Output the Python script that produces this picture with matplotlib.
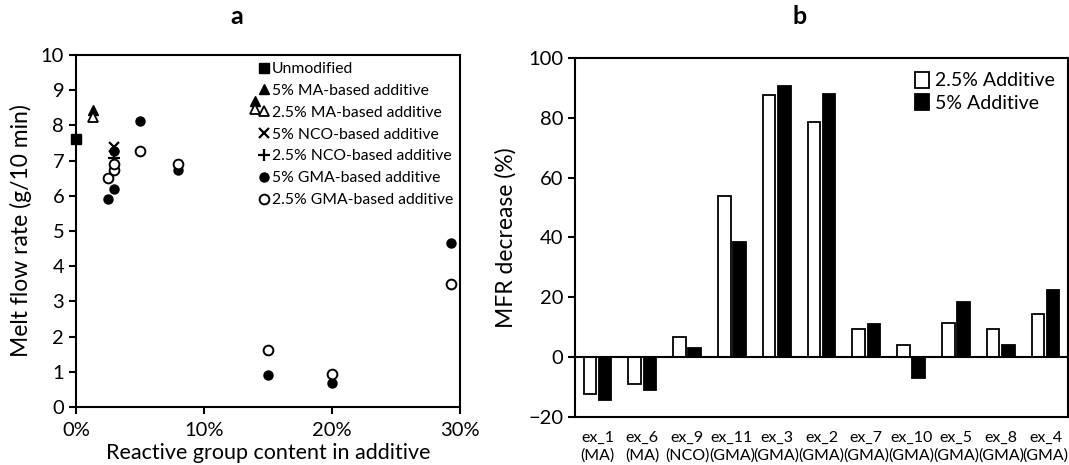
import matplotlib.pyplot as plt
import matplotlib.ticker as mtick
import numpy as np

plt.rcParams['font.family'] = ['Lato', 'DejaVu Sans']

# panel a: reactive group content (%) and melt flow rate (g/10 min)
unmod_x = [0.0]
unmod_y = [7.60]
ma5_x = [1.3, 14.0]
ma5_y = [8.44, 8.70]
ma25_x = [1.3, 14.0]
ma25_y = [8.23, 8.48]
nco5_x = [3.0]
nco5_y = [7.38]
nco25_x = [3.0]
nco25_y = [7.06]
gma5_x = [2.5, 3.0, 3.0, 5.0, 8.0, 15.0, 20.0, 29.3]
gma5_y = [5.91, 6.19, 7.28, 8.13, 6.74, 0.90, 0.69, 4.65]
gma25_x = [2.5, 3.0, 3.0, 5.0, 8.0, 15.0, 20.0, 29.3]
gma25_y = [6.50, 6.74, 6.89, 7.28, 6.90, 1.61, 0.95, 3.49]

# panel b: MFR decrease (%)
samples = ['ex_1\n(MA)', 'ex_6\n(MA)', 'ex_9\n(NCO)', 'ex_11\n(GMA)', 'ex_3\n(GMA)',
           'ex_2\n(GMA)', 'ex_7\n(GMA)', 'ex_10\n(GMA)', 'ex_5\n(GMA)', 'ex_8\n(GMA)',
           'ex_4\n(GMA)']
dec_25 = [-12.4, -9.0, 6.7, 54.0, 87.5, 78.7, 9.3, 4.1, 11.4, 9.5, 14.5]
dec_5 = [-14.3, -11.0, 2.9, 38.4, 90.5, 87.9, 11.0, -7.1, 18.4, 4.2, 22.3]

W, H = 1069, 465
fig = plt.figure(figsize=(W / 100, H / 100), dpi=100)

def px_axes(x0, y0, x1, y1):
    return fig.add_axes([x0 / W, 1 - y1 / H, (x1 - x0) / W, (y1 - y0) / H])

lw = 1.5

# ---- panel a
ax = px_axes(76, 55, 460, 407)
ax.plot(unmod_x, unmod_y, 's', color='black', ms=7.5, label='Unmodified', clip_on=False)
ax.plot(ma5_x, ma5_y, '^', color='black', ms=7.5, label='5% MA-based additive')
ax.plot(ma25_x, ma25_y, '^', mfc='white', mec='black', mew=1.3, ms=7.5,
        label='2.5% MA-based additive')
ax.plot(nco5_x, nco5_y, 'x', color='black', ms=7.5, mew=1.6, label='5% NCO-based additive')
ax.plot(nco25_x, nco25_y, '+', color='black', ms=8, mew=1.6, label='2.5% NCO-based additive')
ax.plot(gma5_x, gma5_y, 'o', color='black', ms=6.5, label='5% GMA-based additive')
ax.plot(gma25_x, gma25_y, 'o', mfc='white', mec='black', mew=1.4, ms=7,
        label='2.5% GMA-based additive', clip_on=False)
ax.set_xlim(0, 30)
ax.set_ylim(0, 10)
ax.set_xticks([0, 10, 20, 30])
ax.xaxis.set_major_formatter(mtick.PercentFormatter(decimals=0))
ax.set_yticks(range(0, 11))
ax.tick_params(direction='out', length=5, width=lw, labelsize=14.5)
ax.tick_params(axis='x', pad=6)
for s in ax.spines.values():
    s.set_linewidth(lw)
ax.set_ylabel('Melt flow rate (g/10 min)', fontsize=16.5, labelpad=6)
fig.text(268 / W, 2 / H, 'Reactive group content in additive', fontsize=15.5,
         ha='center', va='bottom')
ax.legend(loc='upper right', frameon=False, fontsize=11.3, handlelength=0.6,
          handletextpad=0.2, labelspacing=0.5, borderaxespad=0.05,
          bbox_to_anchor=(1.0, 1.0))

# ---- panel b
bx = px_axes(575, 58, 1068, 417)
x = np.arange(len(samples))
bx.bar(x - 0.17, dec_25, 0.28, color='white', edgecolor='black', linewidth=1.3,
       label='2.5% Additive')
bx.bar(x + 0.17, dec_5, 0.28, color='black', edgecolor='black', linewidth=1.3,
       label='5% Additive')
bx.axhline(0, color='black', lw=lw)
bx.set_xlim(-0.5, len(samples) - 0.5)
bx.set_ylim(-20, 100)
bx.set_yticks(range(-20, 101, 20))
bx.set_xticks(x)
bx.set_xticklabels(samples, fontsize=11.5, linespacing=1.3)
bx.tick_params(axis='x', length=0, pad=10)
bx.tick_params(axis='y', direction='out', length=5, width=lw, labelsize=14.5)
for s in bx.spines.values():
    s.set_linewidth(lw)
bx.set_ylabel('MFR decrease (%)', fontsize=16.5, labelpad=8)
bx.legend(loc='upper right', frameon=False, fontsize=14, handlelength=0.7,
          handleheight=0.9, handletextpad=0.3, labelspacing=0.25, borderaxespad=0.3)

fig.text(237 / W, 1 - 16 / H, 'a', fontsize=18, fontweight='bold', ha='center', va='center')
fig.text(800 / W, 1 - 16 / H, 'b', fontsize=18, fontweight='bold', ha='center', va='center')

fig.savefig('out.png', dpi=100)
